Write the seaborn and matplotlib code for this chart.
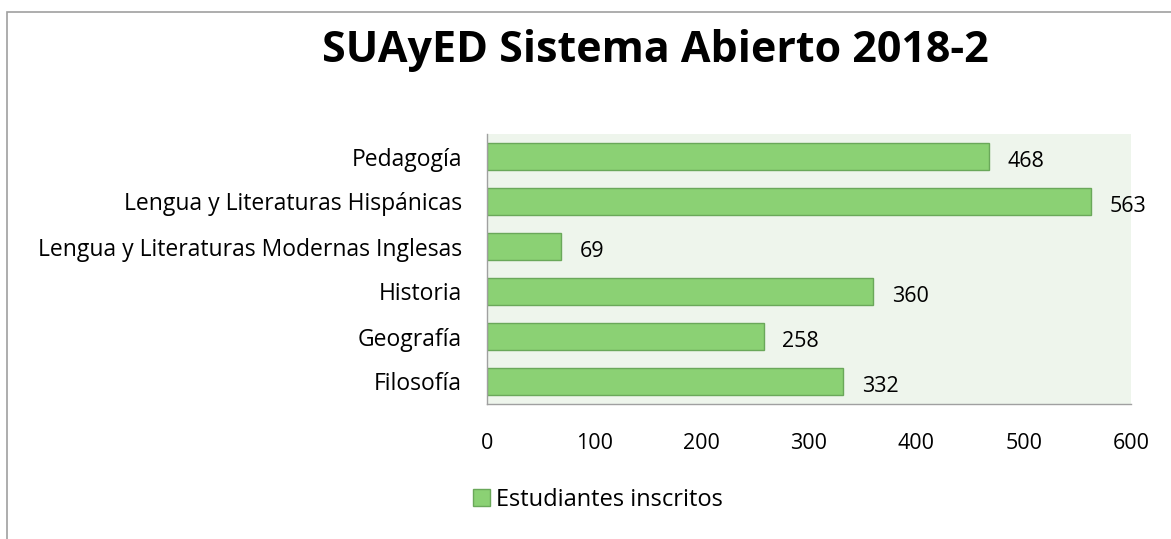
import matplotlib
matplotlib.use('Agg')
import matplotlib.pyplot as plt
import seaborn as sns
import pandas as pd
from matplotlib.patches import Rectangle, Patch

# chart data
carreras = ['Pedagogía', 'Lengua y Literaturas Hispánicas',
            'Lengua y Literaturas Modernas Inglesas', 'Historia',
            'Geografía', 'Filosofía']
inscritos = [468, 563, 69, 360, 258, 332]
x_ticks = [0, 100, 200, 300, 400, 500, 600]
titulo = 'SUAyED Sistema Abierto 2018-2'
serie = 'Estudiantes inscritos'

df = pd.DataFrame({'carrera': carreras, 'inscritos': inscritos})

sns.set_theme(style='white', rc={'text.color': 'black', 'xtick.color': 'black',
                                 'ytick.color': 'black'})
plt.rcParams['font.family'] = ['Open Sans', 'DejaVu Sans']

W, H = 1171, 539
fig = plt.figure(figsize=(W / 100, H / 100), dpi=100)
ax = fig.add_axes([487 / W, 1 - 404 / H, (1131 - 487) / W, (404 - 134) / H])

verde = '#8bd174'
borde = '#6aa85a'
sns.barplot(data=df, y='carrera', x='inscritos', orient='h', ax=ax,
            color=verde, edgecolor=borde, linewidth=1, width=0.6,
            saturation=1)

ax.set_facecolor('#eef5ec')
ax.set_xlim(0, 600)
ax.set_ylim(5.5, -0.5)
ax.set_xticks(x_ticks)
ax.set_xticklabels([str(t) for t in x_ticks], fontsize=15.5)
ax.tick_params(axis='x', length=0, pad=21)
ax.tick_params(axis='y', length=0, pad=18, labelsize=16.5)
ax.set_xlabel('')
ax.set_ylabel('')
for s in ['top', 'right']:
    ax.spines[s].set_visible(False)
for s in ['left', 'bottom']:
    ax.spines[s].set_color('#a0a0a0')
    ax.spines[s].set_linewidth(1)

# value labels
for i, v in enumerate(inscritos):
    ax.text(v + 17, i + 0.12, str(v), fontsize=15.5, va='center', ha='left',
            color='black', clip_on=False)

fig.text(655 / W, 1 - 51 / H, titulo, fontsize=31, fontweight='bold',
         ha='center', va='center', color='black')

fig.legend(handles=[Patch(facecolor=verde, edgecolor=borde, label=serie)],
           loc='center', bbox_to_anchor=(598 / W, 1 - 500 / H), frameon=False,
           fontsize=17, handlelength=0.7, handleheight=0.7, handletextpad=0.25)

# outer chart frame
fig.patches.append(Rectangle((7 / W, -0.1), 1.2, 1 - 12 / H + 0.1,
                             transform=fig.transFigure, fill=False,
                             edgecolor='#a0a0a0', linewidth=1.2))

fig.savefig('out.png', dpi=100)
